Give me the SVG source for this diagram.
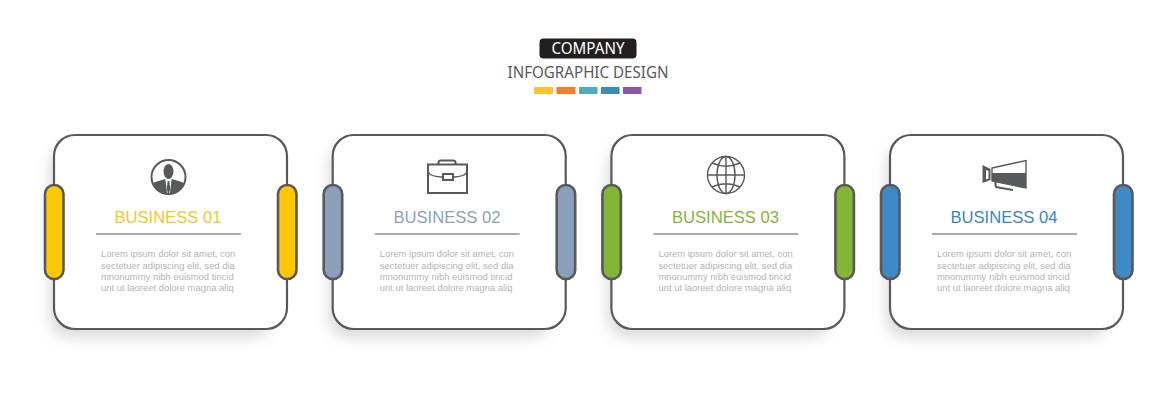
<svg xmlns="http://www.w3.org/2000/svg" width="1176" height="400" viewBox="0 0 1176 400">
<style>
.card{fill:#fff;stroke:#58595b;stroke-width:2.2}
.shadow{fill:#000;fill-opacity:.14;filter:url(#blur)}
.pill{stroke:#58595b;stroke-width:2.600}
.title{font:16.600px "Liberation Sans",Arial,sans-serif;text-anchor:middle}
.body{font:9.450px "Liberation Sans",Arial,sans-serif;fill:#b3b4b6}
.rule{stroke:#58595b;stroke-width:1.2}
.ln{fill:none;stroke:#58595b;stroke-width:2}
.ln1{fill:none;stroke:#58595b;stroke-width:1.4}
.dark{fill:#58595b}
.head{font-family:"Noto Sans","Open Sans",sans-serif;text-anchor:middle}
</style>
<defs>
<filter id="blur" x="-20%" y="-20%" width="140%" height="140%"><feGaussianBlur stdDeviation="7"/></filter>
<g id="frame">
<rect class="shadow" x="50" y="146" width="222" height="192" rx="20"/>
<rect class="card" x="54" y="135" width="233" height="194" rx="21"/>
</g>
<g id="copy">
<line class="rule" x1="96" y1="234" x2="241" y2="234"/>
<text class="body" x="101" y="257">Lorem ipsum dolor sit amet, con</text>
<text class="body" x="101" y="268.500">sectetuer adipiscing elit, sed dia</text>
<text class="body" x="101" y="280">mnonummy nibh euismod tincid</text>
<text class="body" x="101" y="291">unt ut laoreet dolore magna aliq</text>
</g>
<clipPath id="face"><circle cx="168.500" cy="177" r="16.500"/></clipPath>
</defs>
<rect width="1176" height="400" fill="#fff"/>
<g id="header">
<rect x="539.500" y="38.500" width="97" height="20" rx="4" fill="#231f20"/>
<text class="head" x="588" y="54" font-size="16" textLength="73" lengthAdjust="spacingAndGlyphs" fill="#fff">COMPANY</text>
<text class="head" x="588" y="78" font-size="16.500" textLength="161" lengthAdjust="spacingAndGlyphs" fill="#58595b">INFOGRAPHIC DESIGN</text>
<rect x="534" y="87" width="19" height="7" fill="#fcc32c"/>
<rect x="556.500" y="87" width="19" height="7" fill="#f0812c"/>
<rect x="579" y="87" width="18.500" height="7" fill="#4fadb9"/>
<rect x="601" y="87" width="18.500" height="7" fill="#4089b4"/>
<rect x="623" y="87" width="18.500" height="7" fill="#8b58a8"/>
</g>
<g id="connectors"/>
<g id="node-1">
<use href="#frame"/>
<rect class="pill" x="45" y="185" width="18.500" height="94" rx="9" fill="#ffc800"/>
<rect class="pill" x="278" y="185" width="18.500" height="94" rx="9" fill="#ffc800"/>
<circle class="ln" cx="168.500" cy="177" r="17"/>
<ellipse class="dark" cx="168.500" cy="171.500" rx="5" ry="7.500"/>
<g clip-path="url(#face)">
<path class="dark" d="M150 195V187Q152 182.500 157 181.500L165.300 179L167.300 195ZM187 195V187Q185 182.500 180 181.500L171.700 179L169.700 195Z"/>
<path class="dark" d="M167.700 181H169.300L170.300 189L168.500 195L166.700 189Z"/>
</g>
<text class="title" x="168" y="222.500" fill="#f3c928">BUSINESS 01</text>
<use href="#copy"/>
</g>
<g id="node-2">
<g transform="translate(278.700)"><use href="#frame"/>
<rect class="pill" x="45" y="185" width="18.500" height="94" rx="9" fill="#8c9fbb"/>
<rect class="pill" x="278" y="185" width="18.500" height="94" rx="9" fill="#8c9fbb"/>
<use href="#copy"/></g>
<rect class="ln" x="428" y="164.500" width="39" height="28.500"/>
<path class="ln" d="M438.500 164V162.500Q438.500 160.500 441 160.500H453Q455.500 160.500 455.500 162.500V164"/>
<path class="ln1" d="M428 172Q431 177 443 177M453 177Q464 177 467 172"/>
<rect class="ln" x="443" y="174" width="10" height="6"/>
<text class="title" x="447" y="222.500" fill="#8c9fbb">BUSINESS 02</text>
</g>
<g id="node-3">
<g transform="translate(557.400)"><use href="#frame"/>
<rect class="pill" x="45" y="185" width="18.500" height="94" rx="9" fill="#83b537"/>
<rect class="pill" x="278" y="185" width="18.500" height="94" rx="9" fill="#83b537"/>
<use href="#copy"/></g>
<circle class="ln1" cx="726" cy="175" r="18.500" stroke-width="1.800"/>
<ellipse class="ln1" cx="726" cy="175" rx="9" ry="18.500"/>
<path class="ln1" d="M726 156.500V193.500M707.500 175H744.500M712 163Q726 169.500 740 163M712 187Q726 180.500 740 187"/>
<text class="title" x="725.500" y="222.500" fill="#83b537">BUSINESS 03</text>
</g>
<g id="node-4">
<g transform="translate(836)"><use href="#frame"/>
<rect class="pill" x="45" y="185" width="18.500" height="94" rx="9" fill="#3f8ac6"/>
<rect class="pill" x="278" y="185" width="18.500" height="94" rx="9" fill="#3f8ac6"/>
<use href="#copy"/></g>
<path class="dark" d="M982.500 165L990.500 169V180L982.500 183Z"/>
<path d="M986 170L988.500 171V178.500L986 179.500Z" fill="#fff"/>
<path class="ln1" d="M992 168L1026 160.500V188L992 181Z"/>
<path class="dark" d="M992 173H1026V188L992 181Z"/>
<path class="ln" d="M995.500 181.500V185Q995.500 187.500 998.500 187.500L1013 190"/>
<text class="title" x="1004" y="222.500" fill="#3a85bd">BUSINESS 04</text>
</g>
</svg>
